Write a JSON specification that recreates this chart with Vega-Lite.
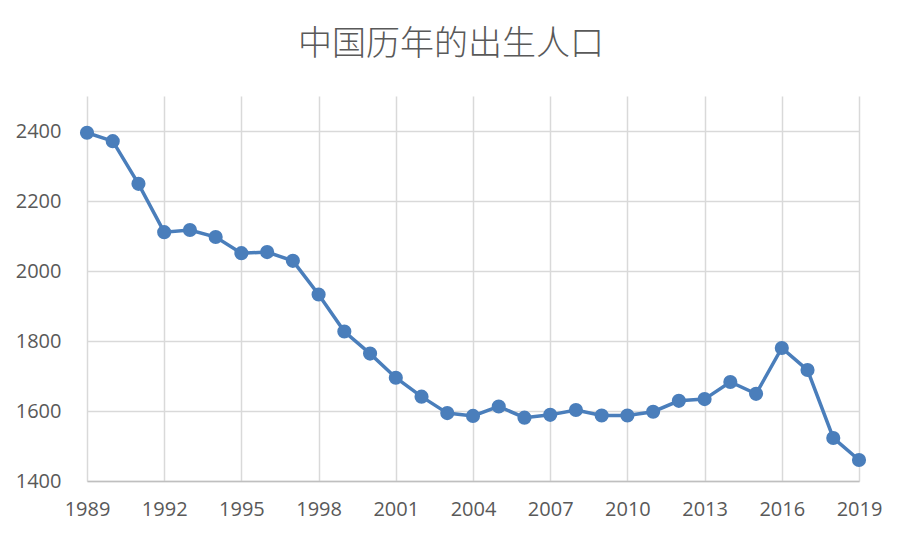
{
  "$schema": "https://vega.github.io/schema/vega-lite/v6.json",
  "width": 772,
  "height": 385,
  "autosize": {"type": "none"},
  "padding": {"left": 87, "top": 96, "right": 52, "bottom": 57},
  "background": "white",
  "title": {
    "text": "中国历年的出生人口",
    "font": "Noto Sans CJK SC",
    "fontSize": 34,
    "fontWeight": 300,
    "color": "#595959",
    "anchor": "middle",
    "dx": -22,
    "offset": 34
  },
  "config": {
    "view": {"stroke": null},
    "axis": {
      "labelFont": "Open Sans",
      "labelFontSize": 20,
      "labelColor": "#595959",
      "gridColor": "#d9d9d9",
      "gridWidth": 1.5,
      "ticks": false,
      "title": null
    }
  },
  "data": {
    "values": [
      {"year": 1989, "births": 2395},
      {"year": 1990, "births": 2371},
      {"year": 1991, "births": 2249},
      {"year": 1992, "births": 2111},
      {"year": 1993, "births": 2117},
      {"year": 1994, "births": 2097},
      {"year": 1995, "births": 2051},
      {"year": 1996, "births": 2054},
      {"year": 1997, "births": 2029},
      {"year": 1998, "births": 1933},
      {"year": 1999, "births": 1827},
      {"year": 2000, "births": 1764},
      {"year": 2001, "births": 1695},
      {"year": 2002, "births": 1641},
      {"year": 2003, "births": 1594},
      {"year": 2004, "births": 1586},
      {"year": 2005, "births": 1613},
      {"year": 2006, "births": 1581},
      {"year": 2007, "births": 1589},
      {"year": 2008, "births": 1603},
      {"year": 2009, "births": 1587},
      {"year": 2010, "births": 1587},
      {"year": 2011, "births": 1598},
      {"year": 2012, "births": 1629},
      {"year": 2013, "births": 1634},
      {"year": 2014, "births": 1683},
      {"year": 2015, "births": 1649},
      {"year": 2016, "births": 1780},
      {"year": 2017, "births": 1717},
      {"year": 2018, "births": 1523},
      {"year": 2019, "births": 1460}
    ]
  },
  "encoding": {
    "x": {
      "field": "year",
      "type": "quantitative",
      "scale": {"domain": [1989, 2019], "nice": false, "zero": false},
      "axis": {
        "values": [1989, 1992, 1995, 1998, 2001, 2004, 2007, 2010, 2013, 2016, 2019],
        "format": "d",
        "labelPadding": 18,
        "domainColor": "#bfbfbf",
        "domainWidth": 1.5,
        "labelFlush": false
      }
    },
    "y": {
      "field": "births",
      "type": "quantitative",
      "scale": {"domain": [1400, 2500], "nice": false, "zero": false},
      "axis": {
        "values": [1400, 1600, 1800, 2000, 2200, 2400],
        "format": "d",
        "labelPadding": 26,
        "domain": false
      }
    }
  },
  "layer": [
    {
      "mark": {"type": "rule", "color": "#bfbfbf", "strokeWidth": 1.5},
      "data": {"values": [{"year": 1989}]},
      "encoding": {
        "x": {"field": "year", "type": "quantitative"},
        "y": {"datum": 1400},
        "y2": {"datum": 2500}
      }
    },
    {
      "mark": {
        "type": "line",
        "color": "#4a7ebb",
        "strokeWidth": 3.5,
        "point": {"filled": true, "size": 200, "color": "#4a7ebb", "opacity": 1}
      }
    }
  ]
}
